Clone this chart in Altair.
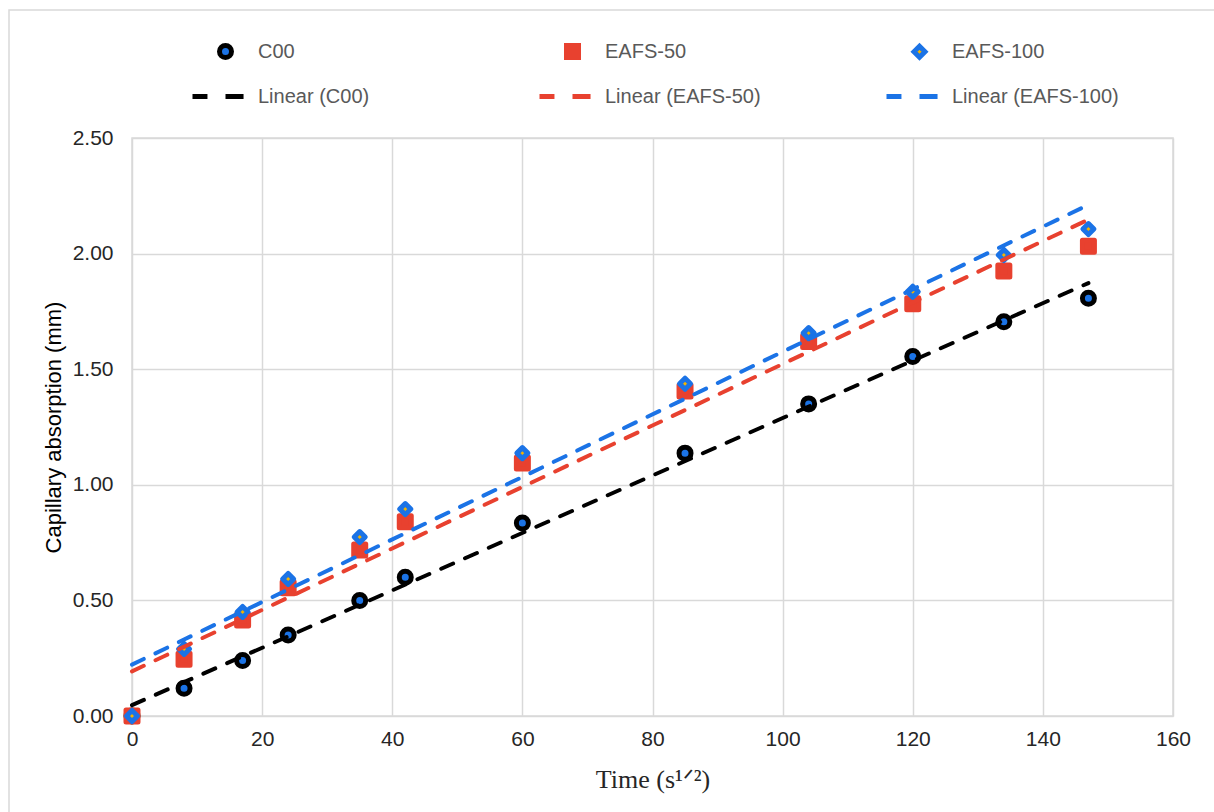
import altair as alt
import pandas as pd

# Square-root time (s^1/2) at which absorption was measured
time_sqrt = [0, 8, 17, 24, 35, 42, 60, 85, 104, 120, 134, 147]

# Capillary absorption (mm) for each mix
c00 = [0.00, 0.12, 0.24, 0.35, 0.50, 0.60, 0.835, 1.137, 1.35, 1.555, 1.705, 1.807]
eafs_50 = [0.00, 0.245, 0.415, 0.555, 0.718, 0.840, 1.094, 1.406, 1.620, 1.783, 1.925, 2.032]
eafs_100 = [0.00, 0.29, 0.45, 0.593, 0.774, 0.895, 1.137, 1.437, 1.656, 1.835, 1.994, 2.106]

mixes = ["C00", "EAFS-50", "EAFS-100"]
legend_order = ["C00", "EAFS-50", "EAFS-100",
                "Linear (C00)", "Linear (EAFS-50)", "Linear (EAFS-100)"]

BLACK = "#000000"
RED = "#e8412f"
BLUE = "#1b73e6"
ORANGE = "#f4b400"

stroke_colors = [BLACK, RED, BLUE, BLACK, RED, BLUE]
fill_colors = [BLUE, RED, ORANGE, BLACK, RED, BLUE]
# legend sample for the trend lines: two dashes, reaching left of the symbol slot
DASH_PATH = "M-1.5,0H-0.82M0,0H0.82"
shapes = ["circle", "square", "diamond", DASH_PATH, DASH_PATH, DASH_PATH]
sizes = [144, 144, 121, 1936, 1936, 1936]

rows = []
for name, values in zip(mixes, [c00, eafs_50, eafs_100]):
    for t, v in zip(time_sqrt, values):
        rows.append({"name": name, "t": t, "v": v})
df = pd.DataFrame(rows)

legend = alt.Legend(
    title=None,
    orient="none",
    direction="horizontal",
    legendX=69,
    legendY=-101,
    columns=3,
    gridAlign="all",
    columnPadding=104,
    rowPadding=0,
    labelFont="Liberation Sans",
    labelFontSize=20,
    labelColor="#595959",
    labelOffset=8,
    labelLimit=400,
    symbolStrokeWidth=5,
    symbolOpacity=1,
)

x_enc = alt.X(
    "t:Q",
    scale=alt.Scale(domain=[0, 160], nice=False),
    axis=alt.Axis(
        values=list(range(0, 161, 20)),
        grid=True, gridColor="#d9d9d9", gridWidth=1.5,
        domain=False, ticks=False, labelFlush=False,
        labelFont="Liberation Sans", labelFontSize=21, labelColor="#262626",
        labelPadding=12,
        title="Time (s¹ᐟ²)",
        titleFont="Liberation Serif", titleFontSize=26, titleFontWeight="normal",
        titleColor="#262626", titleY=63, titleBaseline="middle",
    ),
)
y_enc = alt.Y(
    "v:Q",
    scale=alt.Scale(domain=[0, 2.5], nice=False),
    axis=alt.Axis(
        values=[0, 0.5, 1.0, 1.5, 2.0, 2.5], format=".2f",
        grid=True, gridColor="#d9d9d9", gridWidth=1.5,
        domain=False, ticks=False, labelFlush=False,
        labelFont="Liberation Sans", labelFontSize=21, labelColor="#262626",
        labelPadding=19,
        title="Capillary absorption (mm)",
        titleFont="Liberation Sans", titleFontSize=22, titleFontWeight="normal",
        titleColor="#000000", titleX=-79, titleY=289, titleAngle=270,
        titleAlign="center", titleBaseline="middle",
    ),
)

points = alt.Chart(df).mark_point(
    filled=True, opacity=1, strokeWidth=5, strokeJoin="round"
).encode(
    x=x_enc,
    y=y_enc,
    fill=alt.Fill("name:N", scale=alt.Scale(domain=legend_order, range=fill_colors), legend=legend),
    stroke=alt.Stroke("name:N", scale=alt.Scale(domain=legend_order, range=stroke_colors), legend=legend),
    shape=alt.Shape("name:N", scale=alt.Scale(domain=legend_order, range=shapes), legend=legend),
    size=alt.Size("name:N", scale=alt.Scale(type="ordinal", domain=legend_order, range=sizes), legend=legend),
)

trend = alt.Chart(df).transform_regression(
    "t", "v", groupby=["name"]
).transform_calculate(
    series='"Linear (" + datum.name + ")"'
).mark_line(
    strokeWidth=4, strokeDash=[13, 13], strokeCap="round"
).encode(
    x="t:Q",
    y="v:Q",
    stroke=alt.Stroke("series:N", legend=None),
)

frame = alt.Chart(pd.DataFrame({"k": [0]})).mark_rect(
    fill="transparent", stroke="#d9d9d9", strokeWidth=1.5
).encode(
    x=alt.value(-123), x2=alt.value(1110),
    y=alt.value(-128), y2=alt.value(700),
)

chart = alt.layer(frame, points, trend).properties(
    width=1041,
    height=578,
    padding={"left": 132, "top": 138, "right": 41, "bottom": 96},
    autosize="none",
    background="white",
).configure_view(stroke="#d9d9d9", strokeWidth=1.5)

chart.save("out.html", embed_options={"renderer": "svg", "actions": False})
